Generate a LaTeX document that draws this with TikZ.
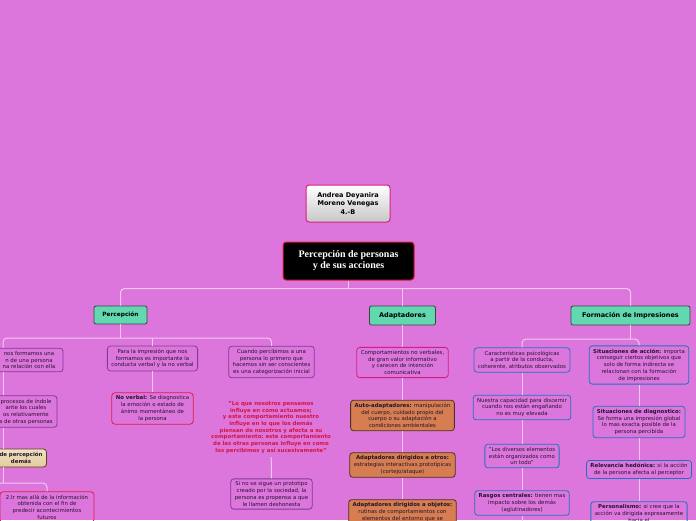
\documentclass[tikz,border=0pt]{standalone}
\usepackage{xcolor}
\usepackage{fontspec}
\setmainfont{DejaVu Sans}
\newfontfamily\titlefont{Liberation Serif}
\usepackage{tikz}
\usetikzlibrary{positioning, calc}

\definecolor{mapbg}{RGB}{221,118,220}
\definecolor{linkcol}{RGB}{243,200,240}
\definecolor{inkcol}{RGB}{35,20,45}
\definecolor{purplecol}{RGB}{125,60,150}
\definecolor{redcol}{RGB}{218,30,70}
\definecolor{magcol}{RGB}{212,30,130}
\definecolor{bluecol}{RGB}{30,115,190}
\definecolor{greenfill}{RGB}{98,216,176}
\definecolor{orangefill}{RGB}{214,126,82}
\definecolor{tanfill}{RGB}{226,204,154}
\definecolor{quotecol}{RGB}{212,20,60}

\begin{document}
\begin{tikzpicture}[x=1pt, y=-1pt,
    link/.style={draw=linkcol, line width=1pt, rounded corners=4pt},
    note/.style={draw, rounded corners=3pt, line width=0.8pt, align=center, text=inkcol,
        font=\fontsize{5.4}{6.7}\selectfont, inner xsep=4pt, inner ysep=3pt},
    branch/.style={draw=black!75, fill=greenfill, rounded corners=2pt, line width=0.8pt,
        font=\bfseries\fontsize{6.5}{8}\selectfont, text=black, minimum height=19pt},
    adapt/.style={note, draw=black!60!brown, fill=orangefill},
    quote/.style={align=center, text=quotecol, font=\bfseries\fontsize{5.4}{6.7}\selectfont}
]
\useasboundingbox (0,0) rectangle (696,520);
\fill[mapbg] (0,0) rectangle (696,520);
\clip (0,0) rectangle (696,520);

% Title
\node[draw=magcol, line width=1pt, rounded corners=3pt, top color=white, bottom color=black!22,
    minimum width=84pt, minimum height=37pt, align=center,
    font=\bfseries\fontsize{6.5}{8.8}\selectfont] (author) at (348,203.5)
    {Andrea Deyanira\\Moreno Venegas\\4.-B};
\node[draw=redcol, line width=1pt, fill=black, rounded corners=3pt, text=white,
    minimum width=131pt, minimum height=38pt, align=center,
    font=\titlefont\bfseries\fontsize{10}{11}\selectfont] (main) at (348.5,261)
    {Percepción de personas\\y de sus acciones};

% Branches
\node[branch, minimum width=53pt, font=\bfseries\fontsize{5.8}{7}\selectfont, minimum height=18pt] (perc) at (120.5,315) {Percepción};
\node[branch, minimum width=66pt] (adap) at (402.5,315.5) {Adaptadores};
\node[branch, minimum width=119pt] (form) at (630.5,315.5) {Formación de Impresiones};

% Percepcion
\node[note, draw=purplecol, minimum width=68pt] (p1) at (29,360)
    {nos formamos una\\n de una persona\\na relación con ella};
\node[note, draw=purplecol, minimum width=62pt] (p1b) at (26,411.5)
    {procesos de índole\\ante los cuales\\os relativamente\\a de otras personas};
\node[note, draw=black!50!brown, top color=tanfill!60!white, bottom color=tanfill,
    minimum width=48pt, minimum height=18pt, font=\bfseries\fontsize{5.4}{6.7}\selectfont] (p1c) at (21,458)
    {de percepción\\demás};
\node[note, draw=redcol, minimum width=94pt] (p1d) at (47,507)
    {2.Ir mas allá de la información\\obtenida con el fin de\\predecir acontecimientos\\futuros};
\node[note, draw=purplecol] (p2) at (152.5,358.5)
    {Para la impresión que nos\\formamos es importante la\\conducta verbal y la no verbal};
\node[note, draw=redcol] (p2b) at (152.5,408.5)
    {\textbf{No verbal:} Se diagnostica\\la emoción o estado de\\ánimo momentáneo de\\la persona};
\node[note, draw=purplecol] (p3) at (271.5,362)
    {Cuando percibimos a una\\persona lo primero que\\hacemos sin ser conscientes\\es una categorización inicial};
\node[quote] (p3b) at (271,427.5)
    {"Lo que nosotros pensamos\\influye en como actuamos;\\y este comportamiento nuestro\\influye en lo que los demás\\piensan de nosotros y afecta a su\\comportamiento; este comportamiento\\de las otras personas influye en como\\los percibimos y así sucesivamente"};
\node[note, draw=purplecol] (p3c) at (271.5,494)
    {Si no se sigue un prototipo\\creado por la sociedad, la\\persona es propensa a que\\le llamen deshonesta};

% Adaptadores
\node[note, draw=magcol] (a1) at (402.5,362.5)
    {Comportamientos no verbales,\\de gran valor informativo\\y carecen de intención\\comunicativa};
\node[adapt] (a2) at (402.5,415.5)
    {\textbf{Auto-adaptadores:} manipulación\\del cuerpo, cuidado propio del\\cuerpo o su adaptación a\\condiciones ambientales};
\node[adapt] (a3) at (402.5,465)
    {\textbf{Adaptadores dirigidos a otros:}\\estrategias interactivas prototípicas\\(cortejo/ataque)};
\node[adapt] (a4) at (402.5,512)
    {\textbf{Adaptadores dirigidos a objetos:}\\rutinas de comportamientos con\\elementos del entorno que se};

% Formacion de impresiones
\node[note, draw=bluecol] (f1) at (522,360)
    {Características psicológicas\\a partir de la conducta,\\coherente, atributos observados};
\node[note, draw=bluecol] (f2) at (522,407.5)
    {Nuestra capacidad para discernir\\cuando nos están engañando\\no es muy elevada};
\node[note, draw=bluecol] (f3) at (522,456)
    {"Los diversos elementos\\están organizados como\\un todo"};
\node[note, draw=bluecol] (f4) at (522,503)
    {\textbf{Rasgos centrales:} tienen mas\\impacto sobre los demás\\(aglutinadores)};
\node[note, draw=bluecol] (g1) at (639,365)
    {\textbf{Situaciones de acción:} importa\\conseguir ciertos objetivos que\\solo de forma indirecta se\\relacionan con la formación\\de impresiones};
\node[note, draw=bluecol] (g2) at (639,422)
    {\textbf{Situaciones de diagnostico:}\\Se forma una impresión global\\lo mas exacta posible de la\\persona percibida};
\node[note, draw=bluecol] (g3) at (639,469.5)
    {\textbf{Relevancia hedónica:} si la acción\\de la persona afecta al perceptor};
\node[note, draw=bluecol] (g4) at (639,513.5)
    {\textbf{Personalismo:} si cree que la\\acción va dirigida expresamente\\hacia el};

% Connections
\coordinate (bar0) at (348.5,288.5);
\coordinate (pbar) at (120.5,338);
\coordinate (lcol) at (3,338);
\coordinate (tbar) at (3,483);
\coordinate (tbarl) at (-20,483);
\coordinate (fbar) at (630.5,339);
\coordinate (fend) at (522,530);
\draw[link] (main.south) -- (bar0);
\draw[link] (perc.north) |- (bar0) -| (form.north);
\draw[link] (adap.north) -- (adap.north |- bar0);
\draw[link] (perc.south) -- (pbar);
\draw[link] (lcol |- p1.north) |- (pbar) -| (p3.north);
\draw[link] (p2.north) -- (p2.north |- pbar);
\draw[link] (lcol |- p1.south) -- (lcol |- p1b.north);
\draw[link] (lcol |- p1b.south) -- (lcol |- p1c.north);
\draw[link] (lcol |- p1c.south) -- (tbar);
\draw[link] (tbarl) -- (tbar) -| (p1d.north);
\draw[link] (p2) -- (p2b);
\draw[link] (p3b) -- (p3c);
\draw[link] (adap) -- (a1);
\draw[link] (a1) -- (a2);
\draw[link] (a2) -- (a3);
\draw[link] (a3) -- (a4);
\draw[link] (form.south) -- (fbar);
\draw[link] (f1.north) |- (fbar) -| (g1.north);
\draw[link] (f1) -- (f2);
\draw[link] (f2) -- (f3);
\draw[link] (f3) -- (f4);
\draw[link] (f4) -- (fend);
\draw[link] (g1) -- (g2);
\draw[link] (g2) -- (g3);
\draw[link] (g3) -- (g4);

\end{tikzpicture}
\end{document}
